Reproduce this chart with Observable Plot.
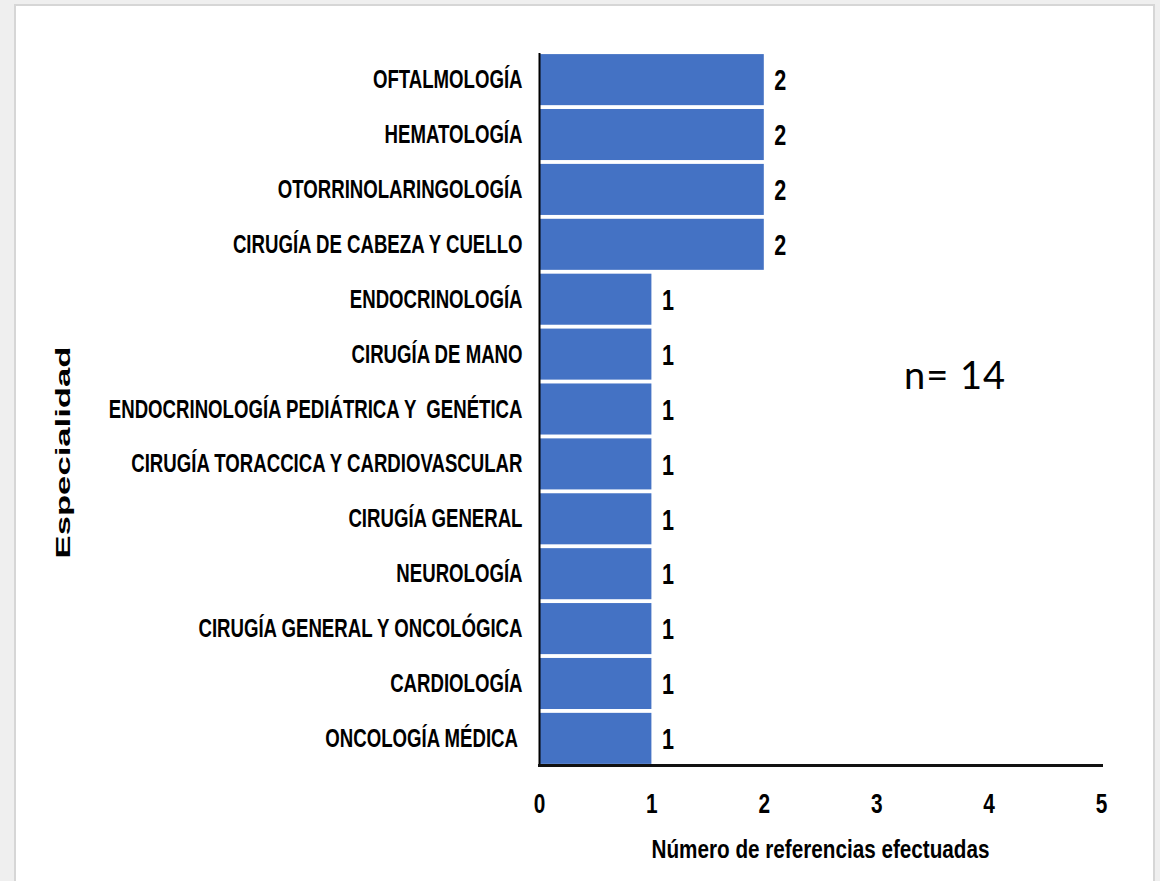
<!DOCTYPE html>
<html>
<head>
<meta charset="utf-8">
<script src="https://cdn.jsdelivr.net/npm/d3@7"></script>
<script src="https://cdn.jsdelivr.net/npm/@observablehq/plot@0.6"></script>
<style>
  html, body { margin: 0; padding: 0; background: #efefef; }
  #wrap { position: relative; width: 1160px; height: 881px; overflow: hidden; }
  #paper { position: absolute; left: 14px; top: 4px; width: 1137px; height: 890px; background: #fff; border: 2px solid #d6d6d6; }
  #chart { position: absolute; left: 0; top: 0; }
  #chart svg { background: transparent; }
  #note { position: absolute; left: 904px; top: 351px; font-family: Lato, "Open Sans", sans-serif; font-size: 38px; letter-spacing: 1px; color: #000; }
</style>
</head>
<body>
<div id="wrap">
  <div id="paper"></div>
  <div id="chart"></div>
  <div id="note">n= 14</div>
</div>
<script>
const categories = [
  "OFTALMOLOGÍA",
  "HEMATOLOGÍA",
  "OTORRINOLARINGOLOGÍA",
  "CIRUGÍA DE CABEZA Y CUELLO",
  "ENDOCRINOLOGÍA",
  "CIRUGÍA DE MANO",
  "ENDOCRINOLOGÍA PEDIÁTRICA Y  GENÉTICA",
  "CIRUGÍA TORACCICA Y CARDIOVASCULAR",
  "CIRUGÍA GENERAL",
  "NEUROLOGÍA",
  "CIRUGÍA GENERAL Y ONCOLÓGICA",
  "CARDIOLOGÍA",
  "ONCOLOGÍA MÉDICA "
];
const values = [2, 2, 2, 2, 1, 1, 1, 1, 1, 1, 1, 1, 1];
const xTicks = [0, 1, 2, 3, 4, 5];
const xLabel = "Número de referencias efectuadas";
const yLabel = "Especialidad";

const data = categories.map((c, i) => ({cat: c, n: values[i]}));
const sans = "'Liberation Sans', Arial, sans-serif";

const chart = Plot.plot({
  width: 1160,
  height: 881,
  marginLeft: 539,
  marginRight: 59,
  marginTop: 53,
  marginBottom: 116,
  style: {fontFamily: sans, fontWeight: "bold", fontSize: "25px", color: "#000", background: "transparent"},
  x: {domain: [0, 5]},
  y: {domain: categories, paddingInner: 0.07, paddingOuter: 0.02, round: false},
  marks: [
    Plot.barX(data, {x: "n", y: "cat", fill: "#4472C4"}),
    Plot.text(data, {x: "n", y: "cat", text: d => String(d.n), textAnchor: "start", dx: 10, dy: 1, fill: "#000", fontSize: 29, className: "squeeze"}),
    Plot.ruleX([0], {stroke: "#000", strokeWidth: 2}),
    Plot.frame({anchor: "bottom", stroke: "#111", strokeWidth: 3}),
    Plot.axisX(xTicks, {tickSize: 0, tickPadding: 28, tickFormat: d => String(d), label: null, fontSize: 28, className: "squeeze"}),
    Plot.axisY({tickSize: 0, tickPadding: 17, label: null, fontSize: 25, className: "squeeze"}),
    Plot.text([xLabel], {frameAnchor: "bottom", dy: 92, text: d => d, fill: "#000", fontSize: 26, className: "xlab"}),
    Plot.text([yLabel], {frameAnchor: "left", textAnchor: "middle", dx: -476, dy: 43, rotate: -90, text: d => d, fill: "#000", fontSize: 21, className: "ylab"})
  ]
});
document.getElementById("chart").appendChild(chart);

// condensed look of the original labels
d3.select(chart).selectAll(".squeeze text").each(function() {
  const t = this.getAttribute("transform") || "";
  this.setAttribute("transform", t + " scale(0.745,1)");
});
d3.select(chart).selectAll(".xlab text").attr("textLength", 338).attr("lengthAdjust", "spacingAndGlyphs");
d3.select(chart).selectAll(".ylab text").attr("textLength", 212).attr("lengthAdjust", "spacingAndGlyphs");
</script>
</body>
</html>
